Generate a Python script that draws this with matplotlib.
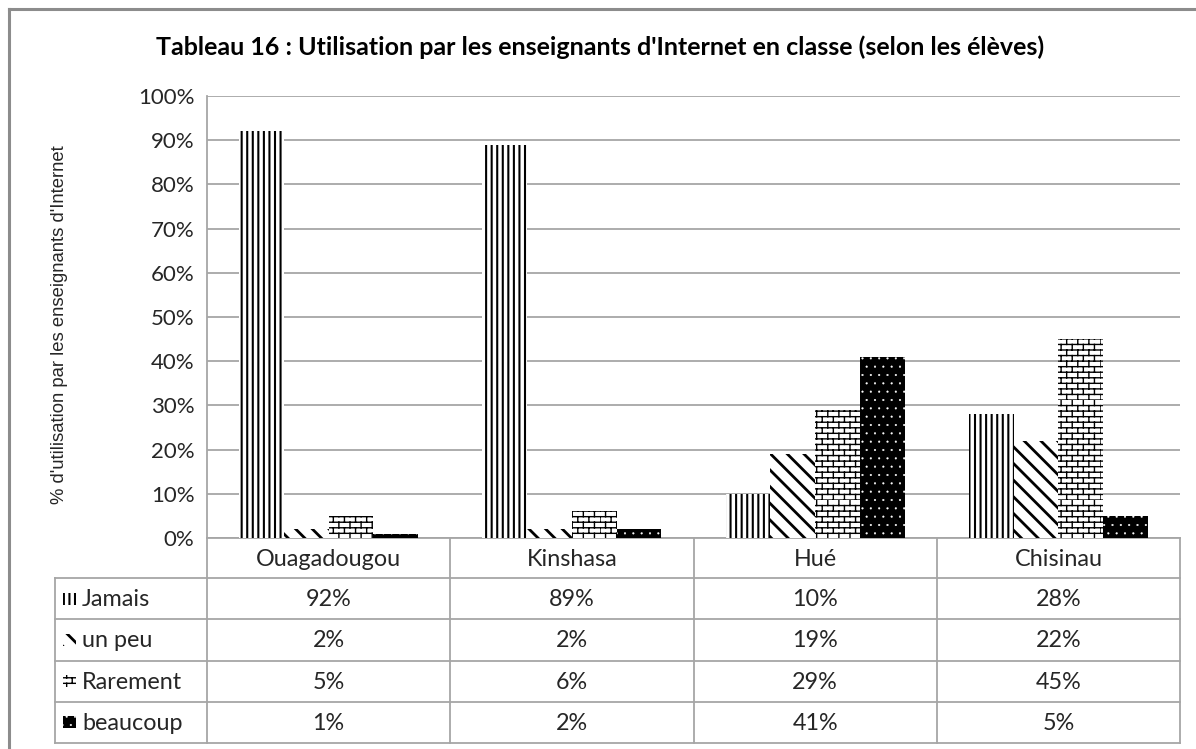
import numpy as np
import matplotlib
matplotlib.use("Agg")
import matplotlib.pyplot as plt
import matplotlib.hatch as mhatch
from matplotlib.patches import Rectangle
from matplotlib.lines import Line2D

# ---- data -------------------------------------------------------------
cities = ["Ouagadougou", "Kinshasa", "Hué", "Chisinau"]
series_names = ["Jamais", "un peu", "Rarement", "beaucoup"]
jamais = [92, 89, 10, 28]
un_peu = [2, 2, 19, 22]
rarement = [5, 6, 29, 45]
beaucoup = [1, 2, 41, 5]
yticks = [0, 10, 20, 30, 40, 50, 60, 70, 80, 90, 100]
title = "Tableau 16 : Utilisation par les enseignants d'Internet en classe (selon les élèves)"
ylabel = "% d'utilisation par les enseignants d'Internet"


# ---- a brick hatch, used in place of the star pattern -----------------
class BrickHatch(mhatch.HatchPatternBase):
    def __init__(self, hatch, density):
        n = hatch.count('*')
        self.rows = 18 * n
        self.cols = 9 * n
        self.num_vertices = (2 * self.rows + 2 * self.rows * self.cols) if n else 0

    def set_vertices_and_codes(self, vertices, codes):
        R, C = self.rows, self.cols
        i = 0
        for k in range(R):
            y0 = k / R
            vertices[i] = (0.0, y0); vertices[i + 1] = (1.0, y0)
            codes[i] = 1; codes[i + 1] = 2
            i += 2
            for j in range(C):
                xx = (j + 0.5 * (k % 2)) / C
                vertices[i] = (xx, y0); vertices[i + 1] = (xx, (k + 1) / R)
                codes[i] = 1; codes[i + 1] = 2
                i += 2


mhatch._hatch_types = [h for h in mhatch._hatch_types if h is not mhatch.Stars] + [BrickHatch]

W, H = 1196, 749
fig = plt.figure(figsize=(W / 100, H / 100), dpi=100)
FONT = ["Lato", "DejaVu Sans"]
plt.rcParams['font.family'] = FONT

# pixel-space overlay for frame, title and table
ov = fig.add_axes([0, 0, 1, 1], zorder=0)
ov.set_xlim(0, W)
ov.set_ylim(H, 0)
ov.axis('off')

# outer frame (left and top edges)
frame_c = "#8c8c8c"
ov.add_line(Line2D([9, 9], [9, H], color=frame_c, lw=2.2))
ov.add_line(Line2D([9, W], [9, 9], color=frame_c, lw=2.2))

ov.text(600, 47, title, ha='center', va='center', fontsize=18,
        fontweight='bold', color='black')

# ---- chart ------------------------------------------------------------
L, R, T, B = 207, 1180, 96, 538
ax = fig.add_axes([L / W, 1 - B / H, (R - L) / W, (B - T) / H], zorder=1)
ax.patch.set_alpha(0)

x = np.arange(len(cities))
bw = 0.184
styles = [
    dict(facecolor='white', edgecolor='black', hatch='|||', hlw=1.5),
    dict(facecolor='white', edgecolor='black', hatch='\\\\', hlw=2.0),
    dict(facecolor='white', edgecolor='black', hatch='*', hlw=1.0),
    dict(facecolor='black', edgecolor='white', hatch='..', hlw=0.3),
]
all_series = [jamais, un_peu, rarement, beaucoup]
for i, (vals, st) in enumerate(zip(all_series, styles)):
    plt.rcParams['hatch.linewidth'] = st['hlw']
    bars = ax.bar(x + (i - 1.5) * bw, vals, bw, facecolor=st['facecolor'],
                  edgecolor=st['edgecolor'], hatch=st['hatch'], linewidth=0,
                  zorder=3)
    for b in bars:
        if hasattr(b, 'set_hatch_linewidth'):
            b.set_hatch_linewidth(st['hlw'])

grid_c = "#a6a6a6"
ax.set_xlim(-0.5, len(cities) - 0.5)
ax.set_ylim(0, 100)
ax.set_yticks(yticks)
ax.set_yticklabels([f"{v}%" for v in yticks], fontsize=16, color='#262626')
ax.set_xticks([])
ax.tick_params(axis='y', length=0, pad=9)
ax.yaxis.grid(True, color=grid_c, lw=1.3)
ax.set_axisbelow(True)
for s in ['top', 'right', 'bottom']:
    ax.spines[s].set_visible(False)
ax.spines['left'].set_color(grid_c)
ax.spines['left'].set_linewidth(1.3)

fig.text(60 / W, 1 - 325 / H, ylabel, rotation=90, ha='center', va='center',
         fontsize=13.3, color='#262626',
         family=["Liberation Sans Narrow", "Liberation Sans", "DejaVu Sans"])

# ---- data table below the chart ---------------------------------------
fig.canvas.draw()
def px_x(xd):
    return ax.transData.transform((xd, 0))[0]

col_edges = [px_x(c - 0.5) for c in x] + [px_x(x[-1] + 0.5)]
col_mid = [px_x(c) for c in x]
tbl_left = 55
hdr_top, hdr_bot = B, 578
row_h = (743 - hdr_bot) / len(series_names)
row_edges = [hdr_bot + k * row_h for k in range(len(series_names) + 1)]
tline = dict(color=grid_c, lw=1.3, zorder=2)

ov.add_line(Line2D([col_edges[0], col_edges[-1]], [hdr_top, hdr_top], **tline))
for ye in row_edges:
    ov.add_line(Line2D([tbl_left, col_edges[-1]], [ye, ye], **tline))
ov.add_line(Line2D([tbl_left, tbl_left], [row_edges[0], row_edges[-1]], **tline))
for xe in col_edges:
    ov.add_line(Line2D([xe, xe], [hdr_top, row_edges[-1]], **tline))

txt_c = '#262626'
TFS = 16.8
for cx, name in zip(col_mid, cities):
    ov.text(cx, (hdr_top + hdr_bot) / 2 + 1, name, ha='center', va='center',
            fontsize=TFS, color=txt_c)

for r, (name, vals, st) in enumerate(zip(series_names, all_series, styles)):
    yc = (row_edges[r] + row_edges[r + 1]) / 2
    plt.rcParams['hatch.linewidth'] = st['hlw']
    key = Rectangle((63, yc - 6), 13, 12, facecolor=st['facecolor'],
                    edgecolor=st['edgecolor'], hatch=st['hatch'], lw=0)
    if hasattr(key, 'set_hatch_linewidth'):
        key.set_hatch_linewidth(st['hlw'])
    ov.add_patch(key)
    ov.text(82, yc + 1, name, ha='left', va='center', fontsize=TFS, color=txt_c)
    for cx, v in zip(col_mid, vals):
        ov.text(cx, yc + 1, f"{v}%", ha='center', va='center', fontsize=TFS,
                color=txt_c)

fig.savefig("out.png", dpi=100, facecolor='white')
